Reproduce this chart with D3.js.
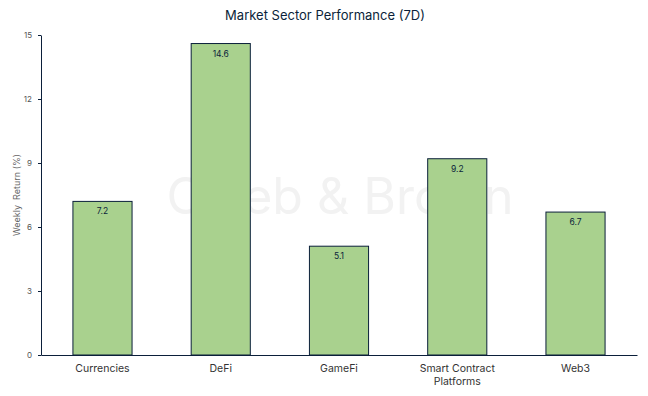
<!DOCTYPE html>
<meta charset="utf-8">
<style>
    body { margin: 0; background: #fff; }
    text { font-family: Inter, "DejaVu Sans", sans-serif; }
    .axis path, .axis line { stroke: #0b1f3a; }
    .axis--y text { fill: #555; font-size: 8px; }
    .axis--x text { fill: #333; font-size: 10.5px; }
    .bar { fill: #a9d18e; stroke: #0b1f3a; stroke-width: 1px; }
</style>
<svg width="648" height="396"></svg>
<script src="https://cdn.jsdelivr.net/npm/d3@7"></script>
<script>

    var sectors = ["Currencies", "DeFi", "GameFi", "Smart Contract Platforms", "Web3"];
    var returns = [7.2, 14.6, 5.1, 9.2, 6.7];
    var yTicks = [0, 3, 6, 9, 12, 15];

    var svg = d3.select("svg"),
        margin = {top: 35, right: 11, bottom: 41, left: 41},
        width = svg.attr("width") - margin.left - margin.right,
        height = svg.attr("height") - margin.top - margin.bottom;

    // watermark behind the bars
    svg.append("text")
        .attr("x", 340)
        .attr("y", 214)
        .attr("text-anchor", "middle")
        .style("font-size", "50px")
        .style("fill", "#f2f2f2")
        .text("Caleb & Brown");

    var g = svg.append("g").attr("transform", "translate(" + margin.left + "," + margin.top + ")");

    var x = d3.scaleBand().domain(sectors).range([0, width]).paddingInner(0.5).paddingOuter(0.27),
        y = d3.scaleLinear().domain([0, 15]).range([height, 0]);

    svg.append("text")
        .attr("x", 325)
        .attr("y", 20)
        .attr("text-anchor", "middle")
        .style("font-size", "13px")
        .style("fill", "#0b1f3a")
        .text("Market Sector Performance (7D)");

    svg.append("text")
        .attr("transform", "translate(20," + (margin.top + height / 2) + ") rotate(-90)")
        .attr("text-anchor", "middle")
        .style("font-size", "9px")
        .style("fill", "#666")
        .style("white-space", "pre")
        .text("Weekly  Return (%)");

    var data = sectors.map(function(s, i) { return {name: s, value: returns[i]}; });

    g.selectAll(".bar")
        .data(data)
        .enter().append("rect")
        .attr("class", "bar")
        .attr("x", function(d) { return x(d.name); })
        .attr("y", function(d) { return y(d.value); })
        .attr("width", x.bandwidth())
        .attr("height", function(d) { return height - y(d.value); });

    g.selectAll(".val")
        .data(data)
        .enter().append("text")
        .attr("x", function(d) { return x(d.name) + x.bandwidth() / 2; })
        .attr("y", function(d) { return y(d.value) + 13; })
        .attr("text-anchor", "middle")
        .style("font-size", "8.5px")
        .style("fill", "#0b1f3a")
        .text(function(d) { return d.value.toFixed(1); });

    g.append("g")
        .attr("class", "axis axis--y")
        .call(d3.axisLeft(y).tickValues(yTicks).tickSize(3).tickSizeOuter(0).tickPadding(6));

    var xAxis = g.append("g")
        .attr("class", "axis axis--x")
        .attr("transform", "translate(0," + height + ")")
        .call(d3.axisBottom(x).tickSize(0).tickPadding(10));

    xAxis.selectAll(".tick text")
        .each(function(d) {
            if (d === "Smart Contract Platforms") {
                var t = d3.select(this).text(null);
                t.append("tspan").attr("x", 0).attr("dy", "0.71em").text("Smart Contract");
                t.append("tspan").attr("x", 0).attr("dy", "1.2em").text("Platforms");
                t.attr("dy", null);
            }
        });

</script>
